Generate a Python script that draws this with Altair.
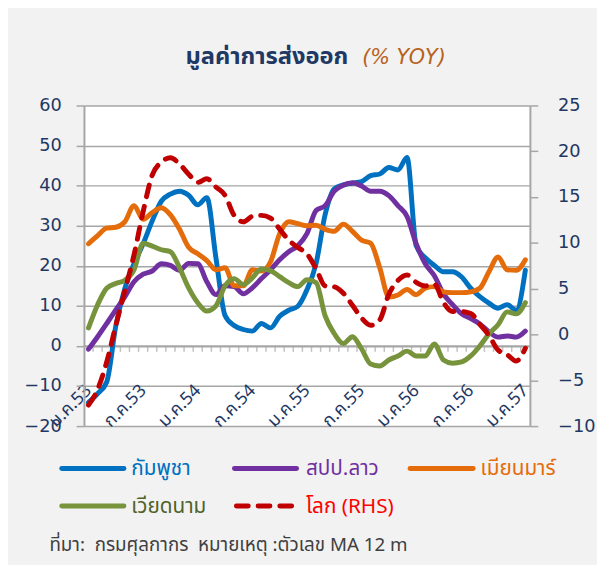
import altair as alt
import pandas as pd

# ---------------- data ----------------
months = list(range(49))  # ม.ค.53 ... ม.ค.57, monthly

cambodia = [-14.1, -11.9, -9.0, 5.0, 14.4, 20.5, 25.5, 31.2, 36.1, 37.9, 38.6, 37.6, 35.2,
            37.0, 22.0, 7.6, 5.1, 4.1, 3.7, 5.6, 4.5, 7.4, 8.9, 9.9, 14.0,
            20.5, 32.8, 39.2, 40.2, 40.6, 41.0, 42.5, 42.9, 44.5, 43.9, 47.0, 25.0,
            22.0, 20.1, 18.5, 18.5, 17.2, 14.4, 12.3, 10.7, 9.4, 10.3, 8.9, 18.9]
laos = [-0.8, 2.3, 5.6, 9.0, 12.3, 16.0, 17.9, 18.7, 20.5, 20.1, 18.9, 20.6, 20.5,
        16.0, 12.8, 15.0, 14.8, 13.0, 14.5, 16.8, 19.0, 21.5, 23.5, 25.0, 28.0,
        33.8, 35.0, 38.6, 40.1, 40.7, 39.9, 38.6, 38.6, 37.5, 35.0, 32.3, 25.5,
        20.5, 17.5, 13.0, 10.3, 8.0, 6.8, 5.5, 3.5, 2.2, 2.5, 2.2, 3.7]
myanmar = [25.5, 27.5, 29.4, 29.6, 31.0, 35.0, 31.6, 33.3, 34.5, 32.7, 29.1, 24.6, 23.0,
           21.3, 19.0, 19.5, 15.0, 15.0, 19.0, 18.7, 21.0, 28.0, 31.0, 30.5, 30.0,
           30.1, 29.1, 28.6, 30.4, 28.6, 26.4, 25.6, 19.5, 12.2, 12.7, 14.1, 12.8,
           14.4, 14.8, 13.5, 13.3, 13.3, 13.5, 14.4, 18.5, 22.2, 19.0, 18.9, 21.5]
vietnam = [4.5, 10.3, 14.4, 15.6, 16.4, 19.0, 25.6, 24.9, 24.0, 23.5, 19.5, 14.5, 10.8,
           8.7, 10.0, 15.0, 16.8, 15.3, 17.0, 19.2, 18.8, 17.3, 15.8, 14.8, 16.5,
           15.8, 7.5, 3.1, 0.6, 2.3, -0.7, -4.5, -5.0, -3.5, -2.5, -1.3, -2.5,
           -2.5, 0.5, -3.5, -4.3, -4.0, -2.5, 0.0, 3.0, 5.3, 8.5, 8.0, 10.8]
world = [-7.7, -6.0, -3.0, 1.0, 4.8, 8.7, 13.4, 17.4, 18.8, 19.3, 18.6, 17.5, 16.6,
         17.0, 16.1, 15.2, 13.0, 12.3, 12.9, 13.0, 12.7, 11.5, 10.3, 9.5, 8.8,
         7.2, 5.3, 5.2, 4.5, 3.2, 1.8, 1.0, 1.6, 4.4, 5.9, 6.5, 5.7,
         5.3, 5.5, 3.5, 2.5, 2.5, 2.3, 1.1, -0.1, -1.7, -2.2, -2.9, -1.5]

series_names = ["กัมพูชา", "สปป.ลาว", "เมียนมาร์", "เวียดนาม"]
world_name = "โลก (RHS)"
series_colors = ["#0070C0", "#7030A0", "#E46C0A", "#77933C"]
world_color = "#C00000"
legend_label_colors = ["#0070C0", "#7030A0", "#E46C0A", "#4F6228", "#FF0000"]

x_label_months = [0, 6, 12, 18, 24, 30, 36, 42, 48]
x_labels = ["ม.ค.53", "ก.ค.53", "ม.ค.54", "ก.ค.54", "ม.ค.55", "ก.ค.55", "ม.ค.56", "ก.ค.56", "ม.ค.57"]
left_ticks = [-20, -10, 0, 10, 20, 30, 40, 50, 60]
right_ticks = [-10, -5, 0, 5, 10, 15, 20, 25]

title_main = "มูลค่าการส่งออก"
title_unit = "(% YOY)"
note = "ที่มา:\u00a0\u00a0กรมศุลกากร\u00a0\u00a0หมายเหตุ :ตัวเลข MA 12 m"

# ---------------- styling ----------------
W, H = 452, 325
GRID = "#A6A6A6"
NAVY = "#1F3864"
NUMFONT = "DejaVu Sans"
THAIFONT = "Tahoma, 'Noto Sans Thai', 'Noto Sans', sans-serif"

rows = []
for name, vals in zip(series_names, [cambodia, laos, myanmar, vietnam]):
    for m, v in zip(months, vals):
        rows.append({"m": m, "value": v, "series": name})
left_df = pd.DataFrame(rows)
world_df = pd.DataFrame({"m": months, "world": world})
bound_df = pd.DataFrame({"b": [m + 0.5 for m in months[:-1]]})
zero_df = pd.DataFrame({"z": [0]})
anchor = pd.DataFrame({"k": [0]})

x_scale = alt.Scale(domain=[-0.5, 48.5], nice=False, zero=False)
yl_scale = alt.Scale(domain=[-20, 60], nice=False, zero=False)
yr_scale = alt.Scale(domain=[-10, 25], nice=False, zero=False)

labels_js = "[" + ",".join("'%s'" % s for s in x_labels) + "]"
vals_js = "[" + ",".join(str(v) for v in x_label_months) + "]"

x_axis = alt.Axis(values=x_label_months, labelExpr=f"{labels_js}[indexof({vals_js}, datum.value)]",
                  labelAngle=-45, labelAlign="right", labelBaseline="middle",
                  labelPadding=-39, labelFontSize=18, labelColor=NAVY, labelFont=THAIFONT,
                  ticks=False, domain=False, grid=False, title=None, labelOverlap=False)

yl_axis = alt.Axis(values=left_ticks, grid=True, gridColor=GRID, gridWidth=1.5,
                   domainColor=GRID, domainWidth=2, tickColor=GRID, tickWidth=1.5, tickSize=8,
                   labelFontSize=18, labelColor=NAVY, labelFont=NUMFONT, labelPadding=15, title=None)
yr_axis = alt.Axis(orient="right", values=right_ticks, grid=False,
                   domainColor=GRID, domainWidth=2, tickColor=GRID, tickWidth=1.5, tickSize=8,
                   labelFontSize=18, labelColor=NAVY, labelFont=NUMFONT, labelPadding=20, title=None)

zero_rule = alt.Chart(zero_df).mark_rule(color=GRID, strokeWidth=1.5).encode(
    y=alt.Y("z:Q", scale=yl_scale, axis=yl_axis))
minor_ticks = alt.Chart(bound_df).mark_tick(orient="vertical", color=GRID, size=6,
                                            thickness=1.5, yOffset=3).encode(
    x=alt.X("b:Q", scale=x_scale, axis=x_axis),
    y=alt.Y("z:Q", scale=yl_scale, axis=yl_axis)).transform_calculate(z="0")
lines = alt.Chart(left_df).mark_line(strokeWidth=5, strokeCap="round", strokeJoin="round",
                                     interpolate="monotone").encode(
    x=alt.X("m:Q", scale=x_scale, axis=x_axis),
    y=alt.Y("value:Q", scale=yl_scale, axis=yl_axis),
    color=alt.Color("series:N", scale=alt.Scale(domain=series_names, range=series_colors), legend=None),
    order=alt.Order("m:Q"))
left_group = alt.layer(zero_rule, minor_ticks, lines)

red = alt.Chart(world_df).mark_line(color=world_color, strokeWidth=5, strokeDash=[12, 10],
                                    strokeCap="round", interpolate="monotone").encode(
    x=alt.X("m:Q", scale=x_scale, axis=x_axis),
    y=alt.Y("world:Q", scale=yr_scale, axis=yr_axis))


def text(txt, x, y, size, color, align="left", weight="normal", style="normal", font=THAIFONT):
    return alt.Chart(anchor).mark_text(text=txt, align=align, baseline="middle", fontSize=size,
                                       color=color, fontWeight=weight, fontStyle=style,
                                       font=font).encode(x=alt.value(x), y=alt.value(y))


annotations = [
    text(title_main, 268, -49, 24, NAVY, align="right", weight="bold"),
    text(title_unit, 282, -48, 21, "#B8621B", style="italic", font=NUMFONT),
    text(note, -35, 446, 19, "#404040"),
]

legend_items = list(zip(series_names + [world_name], legend_label_colors,
                        [(0, 0), (1, 0), (2, 0), (0, 1), (1, 1)]))
col_sym = [(-22.5, 40.5), (152.5, 215.5), (330.5, 394.5)]
col_lab = [48, 225, 402]
row_y = [368, 406]
for i, (name, lcol, (c, r)) in enumerate(legend_items):
    line_color = series_colors[i] if i < 4 else world_color
    x0, x1 = col_sym[c]
    kw = dict(color=line_color, strokeWidth=5, strokeCap="round")
    if i == 4:
        kw["strokeDash"] = [12, 10]
        x0, x1 = 154.5, 210.5
    annotations.append(alt.Chart(anchor).mark_rule(**kw).encode(
        x=alt.value(x0), x2=alt.value(x1), y=alt.value(row_y[r])))
    annotations.append(text(name, col_lab[c], row_y[r] + 1, 21, lcol))

chart = alt.layer(left_group, red, *annotations).resolve_scale(y="independent").properties(
    width=W, height=H,
    autosize=alt.AutoSizeParams(type="none"),
    padding={"left": 77, "top": 95, "right": 68, "bottom": 137},
).configure(background="#F2F2F2").configure_view(fill="white", stroke="transparent")

chart.save("out.html", embed_options={"renderer": "svg", "actions": False})
